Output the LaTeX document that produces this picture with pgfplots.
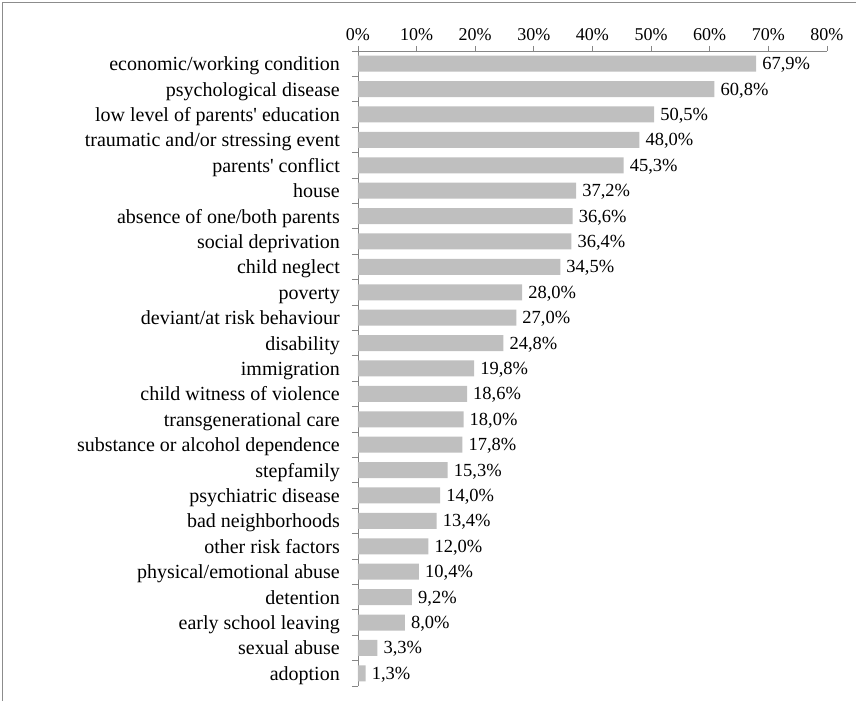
\documentclass[border=0pt]{standalone}
\usepackage{pgfplots}
\pgfplotsset{compat=1.18}
\usepackage{pgfplotstable}
\usepackage{fontspec}
\setmainfont{Liberation Serif}
\definecolor{bargray}{HTML}{BFBFBF}
\definecolor{axgray}{HTML}{868686}
\definecolor{framegray}{HTML}{8C8C8C}
\pgfplotstableread{
y v
24 67.9
23 60.8
22 50.5
21 48.0
20 45.3
19 37.2
18 36.6
17 36.4
16 34.5
15 28.0
14 27.0
13 24.8
12 19.8
11 18.6
10 18.0
9 17.8
8 15.3
7 14.0
6 13.4
5 12.0
4 10.4
3 9.2
2 8.0
1 3.3
0 1.3
}\data
\begin{document}
\begin{tikzpicture}
\begin{axis}[
  at={(0pt,0pt)}, anchor=south west,
  scale only axis, width=469pt, height=635pt,
  xbar, bar width=16pt,
  xmin=0, xmax=80, ymin=-0.5, ymax=24.5,
  axis x line=top, axis y line=left,
  axis line style={-, draw=axgray, line width=0.8pt},
  tick align=outside,
  major tick length=5pt, minor tick length=6pt,
  xtick={0,10,...,80},
  xticklabel={\pgfmathprintnumber{\tick}\%},
  xticklabel style={font=\fontsize{18}{18}\selectfont, /pgf/number format/assume math mode=true, yshift=2pt},
  x tick style={draw=axgray, line width=0.8pt},
  ytick={0,...,24},
  y tick style={draw=none},
  minor ytick={-0.5,0.5,...,24.5},
  minor y tick style={draw=axgray, line width=0.8pt},
  yticklabels={adoption, sexual abuse, early school leaving, detention, physical/emotional abuse, other risk factors, bad neighborhoods, psychiatric disease, stepfamily, substance or alcohol dependence, transgenerational care, child witness of violence, immigration, disability, deviant/at risk behaviour, poverty, child neglect, social deprivation, absence of one/both parents, house, parents\textquotesingle{} conflict, traumatic and/or stressing event, low level of parents\textquotesingle{} education, psychological disease, economic/working condition},
  yticklabel style={font=\fontsize{20}{20}\selectfont, anchor=base east, inner sep=0pt, xshift=-13pt, yshift=-7pt},
  point meta=x,
  nodes near coords={\pgfmathprintnumber[fixed,fixed zerofill,precision=1,use comma]{\pgfplotspointmeta}\%},
  every node near coord/.append style={font=\fontsize{18.5}{18.5}\selectfont, anchor=base west, inner sep=0pt, xshift=6pt, yshift=-6pt, /pgf/number format/assume math mode=true},
]
\addplot[fill=bargray, draw=none] table[x=v, y=y] {\data};
\end{axis}
\draw[framegray, line width=1pt] (-355pt,-15pt) -- (-355pt,683pt) -- (498pt,683pt);
\pgfresetboundingbox
\path[use as bounding box] (-358pt,-15pt) rectangle (498pt,686pt);
\end{tikzpicture}
\end{document}
